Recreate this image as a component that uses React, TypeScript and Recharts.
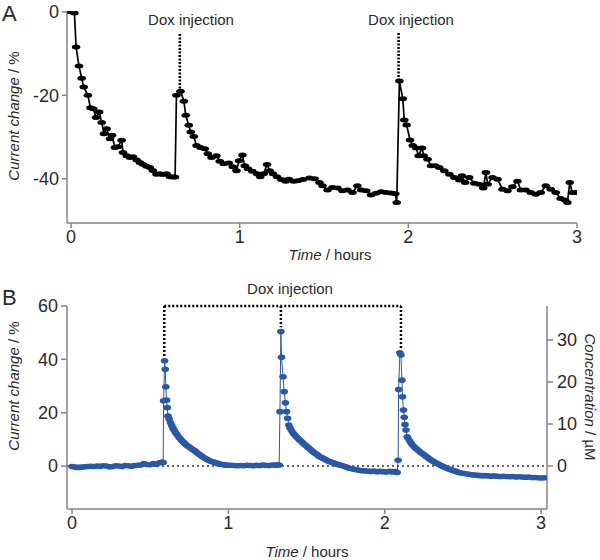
import React from "react";
import { LineChart, Line, XAxis, YAxis, ReferenceLine } from "recharts";

// Panel A: time (hours) and current change (%)
const timeA = [0.00,0.01,0.02,0.03,0.047,0.063,0.075,0.10,0.115,0.132,
0.148,0.167,0.182,0.195,0.211,0.231,0.243,0.260,0.278,0.300,
0.308,0.330,0.349,0.367,0.389,0.408,0.426,0.448,0.467,0.485,
0.507,0.527,0.544,0.566,0.586,0.604,0.617,0.625,0.649,0.669,
0.680,0.698,0.710,0.728,0.744,0.767,0.793,0.811,0.833,0.862,
0.882,0.905,0.935,0.959,0.981,0.996,1.016,1.030,1.049,1.075,
1.103,1.122,1.142,1.162,1.178,1.197,1.221,1.247,1.272,1.292,
1.320,1.345,1.375,1.414,1.444,1.473,1.491,1.521,1.550,1.580,
1.609,1.639,1.669,1.698,1.720,1.750,1.779,1.809,1.839,1.868,
1.898,1.923,1.931,1.947,1.967,1.976,1.990,2.010,2.026,2.046,
2.061,2.081,2.091,2.114,2.134,2.160,2.183,2.213,2.243,2.272,
2.302,2.318,2.337,2.361,2.391,2.420,2.444,2.460,2.470,2.499,
2.529,2.558,2.588,2.617,2.647,2.667,2.696,2.726,2.755,2.785,
2.815,2.844,2.874,2.903,2.929,2.943,2.957,2.972,3.0];

const currentA = [0,0,-0.3,-8.4,-13,-15.9,-18,-20,-23,-23.2,
-25.3,-24,-26.5,-29.2,-28,-30.4,-29.6,-32.5,-32.3,-30.8,
-33.7,-34.5,-34.9,-34.7,-35.5,-36.1,-36.5,-37,-37.3,-38,
-38.9,-38.8,-39,-38.8,-39.5,-39.6,-39.6,-20,-19,-21.4,
-24.8,-27.2,-28.8,-29.9,-32,-32.5,-32.8,-34,-34.9,-34.5,
-35.8,-36.4,-36.2,-37.1,-38.1,-35.7,-34.3,-36.9,-37.6,-38.2,
-38.8,-39.5,-38.8,-36.6,-38.1,-38.8,-39.5,-40.2,-40.6,-40.1,
-40.6,-40.5,-40.2,-39.8,-40,-40.9,-41.7,-42.7,-42.1,-42.2,
-42.9,-42.7,-43.3,-41.7,-42.7,-42.9,-43.9,-43.5,-43.1,-43.3,
-43.4,-43.6,-45.7,-16.6,-20.8,-25.9,-27.1,-30.7,-32,-32.6,
-34.5,-32.6,-34.5,-35.3,-36.9,-36.9,-37.3,-38.1,-38.9,-39.7,
-40.3,-39.3,-40.9,-39.7,-41.1,-41.3,-42.2,-38.5,-41.3,-39.7,
-40.1,-42.5,-42.9,-41.9,-40.6,-42.7,-42.7,-43.3,-43.7,-43.3,
-41.7,-42.5,-43.3,-44.7,-45.1,-45.7,-40.9,-43.3,-43.3];

// Panel B: [time (hours), current change (%)]
const seriesB: [number, number][] = [
[0.00,-0.2],[0.02,-0.4],[0.04,-0.5],[0.06,-0.4],[0.08,-0.3],[0.10,-0.2],[0.12,-0.1],[0.14,-0.2],[0.16,0.0],[0.18,-0.1],
[0.20,0.1],[0.22,0.0],[0.24,-0.3],[0.26,-0.2],[0.28,0.1],[0.30,0.0],[0.32,-0.2],[0.34,0.2],[0.36,0.1],[0.38,-0.1],
[0.40,0.2],[0.42,0.3],[0.44,0.4],[0.46,0.9],[0.48,0.6],[0.50,0.5],[0.52,0.9],[0.54,0.7],[0.56,1.2],[0.575,1.5],[0.583,1.3],
[0.586,24.5],[0.592,39.5],[0.596,36.3],[0.600,29.7],[0.605,24.7],[0.609,21.9],[0.614,18.7],[0.622,17.5],[0.63,16.2],[0.638,15.2],
[0.646,14.2],[0.654,13.4],[0.662,12.6],[0.67,11.9],[0.68,11.1],[0.69,10.4],[0.70,9.7],[0.71,9.1],[0.72,8.5],[0.73,8.0],
[0.74,7.5],[0.75,7.1],[0.76,6.7],[0.77,6.3],[0.78,5.9],[0.79,5.5],[0.80,5.0],[0.81,4.5],[0.82,4.1],[0.83,3.7],
[0.84,3.3],[0.85,2.9],[0.86,2.6],[0.87,2.3],[0.88,2.0],[0.89,1.8],[0.90,1.6],[0.91,1.4],[0.92,1.2],[0.93,1.0],
[0.94,0.8],[0.95,0.7],[0.96,0.6],[0.97,0.5],[0.98,0.4],[0.99,0.4],[1.00,0.3],
[1.02,0.3],[1.04,0.2],[1.06,0.1],[1.08,0.2],[1.10,0.1],[1.12,0.3],[1.14,0.2],[1.16,0.1],[1.18,0.3],[1.20,0.2],
[1.22,0.4],[1.24,0.3],[1.26,0.2],[1.28,0.4],[1.30,0.3],[1.31,0.5],[1.325,0.4],
[1.330,20.4],[1.336,50.4],[1.340,40.8],[1.350,33.5],[1.357,27.9],[1.365,23.7],[1.372,20.4],[1.379,17.9],[1.387,15.4],[1.395,14.2],
[1.405,13.2],[1.415,12.3],[1.425,11.6],[1.435,11.0],[1.445,10.4],[1.455,9.8],[1.465,9.3],[1.475,8.7],[1.485,8.2],[1.495,7.7],
[1.505,7.2],[1.515,6.7],[1.525,6.2],[1.535,5.7],[1.545,5.2],[1.555,4.8],[1.565,4.4],[1.575,3.9],[1.585,3.5],[1.595,3.2],
[1.605,2.9],[1.615,2.6],[1.625,2.3],[1.635,2.0],[1.645,1.7],[1.655,1.5],[1.665,1.3],[1.675,1.1],[1.685,0.9],[1.695,0.7],
[1.705,0.5],[1.715,0.4],[1.73,0.1],[1.745,-0.2],[1.76,-0.5],[1.775,-0.8],[1.79,-1.0],[1.805,-1.2],[1.82,-1.4],[1.835,-1.6],
[1.85,-1.7],[1.87,-1.8],[1.89,-1.9],[1.91,-2.0],[1.93,-1.9],[1.95,-2.1],[1.97,-2.0],[1.99,-2.1],[2.01,-2.2],[2.03,-2.0],
[2.05,-2.2],[2.07,-2.1],[2.08,-2.4],
[2.086,2.2],[2.089,28.7],[2.097,42.5],[2.104,41.6],[2.110,32.2],[2.114,26.0],[2.120,21.0],[2.125,18.3],[2.130,15.6],[2.136,13.5],
[2.144,11.0],[2.15,10.3],[2.16,9.4],[2.17,8.5],[2.18,7.7],[2.19,7.1],[2.20,6.6],[2.21,6.1],[2.22,5.6],[2.23,5.1],
[2.24,4.7],[2.25,4.3],[2.26,3.8],[2.27,3.4],[2.28,2.9],[2.29,2.5],[2.30,2.1],[2.31,1.8],[2.32,1.4],[2.33,1.1],
[2.34,0.8],[2.35,0.5],[2.36,0.2],[2.37,-0.1],[2.38,-0.4],[2.39,-0.6],[2.40,-0.9],[2.41,-1.1],[2.42,-1.3],[2.43,-1.5],
[2.44,-1.7],[2.45,-1.9],[2.46,-2.1],[2.47,-2.3],[2.48,-2.5],[2.50,-2.7],[2.52,-2.9],[2.54,-3.1],[2.56,-3.3],[2.58,-3.4],
[2.60,-3.5],[2.62,-3.6],[2.64,-3.6],[2.66,-3.7],[2.68,-3.8],[2.70,-3.7],[2.72,-3.8],[2.74,-3.9],[2.76,-3.8],[2.78,-3.9],
[2.80,-4.0],[2.82,-3.9],[2.84,-4.1],[2.86,-4.0],[2.88,-4.1],[2.90,-4.2],[2.92,-4.1],[2.94,-4.3],[2.96,-4.3],[2.98,-4.4],
[3.00,-4.5],[3.02,-4.4]
];

const ticksTime = [0, 1, 2, 3];
const ticksA = [0, -20, -40];
const ticksBLeft = [0, 20, 40, 60];
const ticksBRight = [0, 10, 20, 30];
const doxA = [
  { t: 0.645, top: -5.3, bottom: -18.5 },
  { t: 1.942, top: -5.1, bottom: -16.2 },
];
const doxB = [
  { t: 0.59, bottom: 41 },
  { t: 1.336, bottom: 52 },
  { t: 2.104, bottom: 44 },
];

const dataA = timeA.map((t, i) => ({ t, v: currentA[i] }));
const dataB = seriesB.map(([t, v]) => ({ t, v }));

const FONT = "'Liberation Sans', Arial, sans-serif";
const AX = "#858585";
const TXT = "#2a2a2a";
const BLUE = "#2a58a8";

const tickStyle = { fill: TXT, fontSize: 18, fontFamily: FONT };

const dotA = (p: any) => (
  <ellipse key={`a${p.index}`} cx={p.cx} cy={p.cy} rx={4.3} ry={2.5} fill="#000" />
);
const dotB = (p: any) => (
  <ellipse key={`b${p.index}`} cx={p.cx} cy={p.cy} rx={3.8} ry={2.8} fill={BLUE} />
);

export default function App() {
  return (
    <div style={{ position: "absolute", left: 0, top: 0, width: 600, height: 560, background: "#fff", fontFamily: FONT }}>
      <div style={{ position: "absolute", left: 0, top: 0 }}>
        <LineChart width={600} height={280} data={dataA} margin={{ top: 11, right: 23, bottom: 27, left: 7 }}>
          <XAxis dataKey="t" type="number" domain={[-0.024, 3]} ticks={ticksTime} allowDataOverflow height={30}
            stroke={AX} strokeWidth={1.5} tickSize={5} tickMargin={2} tick={tickStyle} tickLine={{ stroke: AX }} />
          <YAxis type="number" domain={[-50.6, 0.2]} ticks={ticksA} allowDataOverflow width={60}
            stroke={AX} strokeWidth={1.5} tickSize={5} tickMargin={3} tick={tickStyle} tickLine={{ stroke: AX }} />
          {doxA.map((d, i) => (
            <ReferenceLine key={`da${i}`} segment={[{ x: d.t, y: d.top }, { x: d.t, y: d.bottom }]}
              stroke="#000" strokeWidth={2.5} strokeDasharray="2 1.5" ifOverflow="visible" />
          ))}
          <Line type="linear" dataKey="v" stroke="#000" strokeWidth={1.7} dot={dotA} isAnimationActive={false} />
        </LineChart>
      </div>
      <div style={{ position: "absolute", left: 0, top: 280 }}>
        <LineChart width={600} height={280} data={dataB} margin={{ top: 26, right: 3, bottom: 21, left: 7 }}>
          <XAxis dataKey="t" type="number" domain={[-0.032, 3.038]} ticks={ticksTime} allowDataOverflow height={30}
            stroke={AX} strokeWidth={1.5} tickSize={5} tickMargin={2} tick={tickStyle} tickLine={{ stroke: AX }} />
          <YAxis yAxisId="l" type="number" domain={[-16.1, 60]} ticks={ticksBLeft} allowDataOverflow width={60}
            stroke={AX} strokeWidth={1.5} tickSize={6} tickMargin={3} tick={tickStyle} tickLine={{ stroke: AX }} />
          <YAxis yAxisId="r" orientation="right" type="number" domain={[-10.24, 38.1]} ticks={ticksBRight} allowDataOverflow width={50}
            stroke={AX} strokeWidth={1.5} tickSize={6} tickMargin={4} tick={tickStyle} tickLine={{ stroke: AX }} />
          <ReferenceLine yAxisId="l" y={0} stroke="#666" strokeWidth={2} strokeDasharray="2 3" />
          <ReferenceLine yAxisId="l" segment={[{ x: doxB[0].t, y: 60 }, { x: doxB[2].t, y: 60 }]}
            stroke="#000" strokeWidth={2.5} strokeDasharray="2 2" ifOverflow="visible" />
          {doxB.map((d, i) => (
            <ReferenceLine key={`db${i}`} yAxisId="l" segment={[{ x: d.t, y: 60 }, { x: d.t, y: d.bottom }]}
              stroke="#000" strokeWidth={2.5} strokeDasharray="2 2" ifOverflow="visible" />
          ))}
          <Line yAxisId="l" type="linear" dataKey="v" stroke={BLUE} strokeWidth={1} dot={dotB} isAnimationActive={false} />
        </LineChart>
      </div>
      <svg width={600} height={560} style={{ position: "absolute", left: 0, top: 0, pointerEvents: "none" }}
        fontFamily={FONT} fill={TXT}>
        <text x={2} y={21} fontSize={22}>A</text>
        <text x={2} y={305} fontSize={22}>B</text>
        <text x={191} y={24.5} fontSize={15} textAnchor="middle">Dox injection</text>
        <text x={411} y={24.5} fontSize={15} textAnchor="middle">Dox injection</text>
        <text x={290} y={294} fontSize={15} textAnchor="middle">Dox injection</text>
        <text x={330} y={260} fontSize={15} textAnchor="middle">
          <tspan fontStyle="italic">Time</tspan> / hours
        </text>
        <text x={307} y={557} fontSize={15} textAnchor="middle">
          <tspan fontStyle="italic">Time</tspan> / hours
        </text>
        <text transform="translate(19,116) rotate(-90)" fontSize={15} textAnchor="middle">
          <tspan fontStyle="italic">Current change</tspan> / %
        </text>
        <text transform="translate(19,386) rotate(-90)" fontSize={15} textAnchor="middle">
          <tspan fontStyle="italic">Current change</tspan> / %
        </text>
        <text transform="translate(585,397) rotate(90)" fontSize={15} textAnchor="middle">
          <tspan fontStyle="italic">Concentration</tspan> / µM
        </text>
      </svg>
    </div>
  );
}
